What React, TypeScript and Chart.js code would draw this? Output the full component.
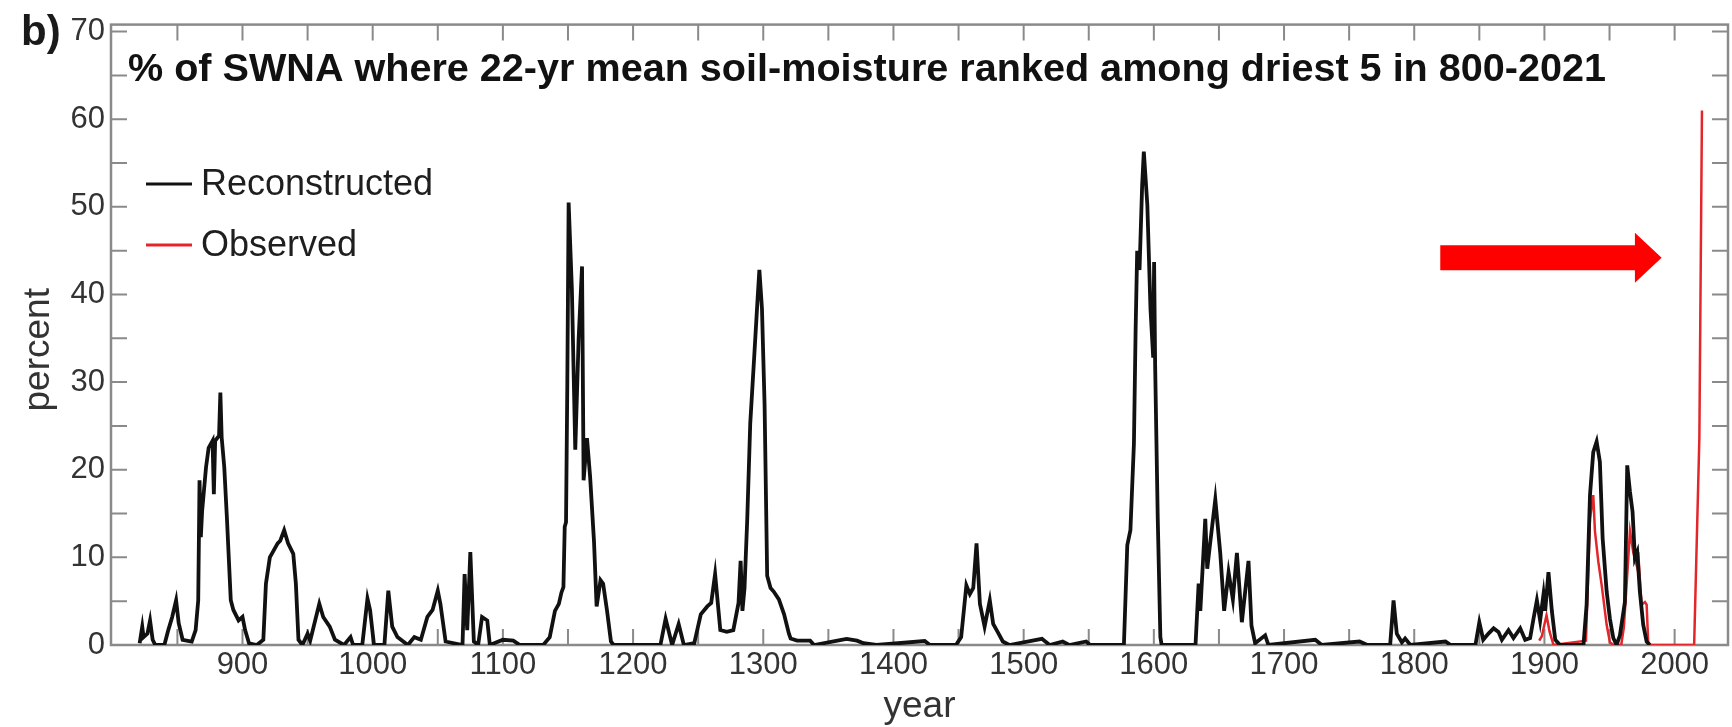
import { useEffect, useRef } from 'react';
import { Chart, registerables } from 'chart.js';

Chart.register(...registerables);

// ---------- data ----------
const REC_YEARS = [
  821, 823, 824, 827, 829, 831, 833, 840, 843, 846, 849, 851, 854, 861, 864, 866, 867, 868, 869, 872,
  874, 877, 878, 879, 882, 883, 884, 886, 888, 891, 893, 897, 900, 902, 905, 911, 916, 918, 921, 924,
  927, 929, 932, 935, 939, 941, 943, 946, 950, 952, 959, 962, 967, 971, 978, 983, 985, 992, 996, 998,
  1001, 1009, 1012, 1015, 1019, 1027, 1032, 1037, 1042, 1046, 1050, 1052, 1056, 1069, 1070.6, 1072.6, 1075, 1077.7, 1081, 1084,
  1088, 1090, 1100, 1108, 1113, 1131, 1136, 1140, 1143, 1145, 1146.5, 1147.5, 1148.5, 1149.5, 1150.5, 1153, 1155.6, 1158.2, 1160.8, 1162,
  1164.6, 1167, 1170, 1172, 1175, 1177, 1180, 1183, 1185, 1221, 1225, 1230, 1235, 1239, 1247, 1252, 1257, 1260, 1263, 1267,
  1272, 1277, 1281, 1282.6, 1284, 1285.6, 1287.7, 1290, 1293, 1295.4, 1297, 1299, 1301, 1303, 1305.6, 1308, 1312, 1316, 1319.7, 1321,
  1326, 1336, 1339, 1357, 1364, 1372, 1377, 1387, 1424, 1428, 1448, 1452, 1456, 1458.7, 1461.3, 1463.8, 1466.4, 1470, 1474, 1476.6,
  1480, 1484, 1489, 1514, 1520, 1530, 1535, 1548, 1551, 1577, 1579.6, 1582, 1584.7, 1586, 1587.2, 1589, 1591, 1592.3, 1595, 1597.4,
  1599.5, 1600.2, 1601, 1603, 1605, 1606, 1632, 1634.4, 1635.7, 1639.5, 1641, 1643.4, 1647.2, 1651, 1654, 1657.4, 1660.7, 1663.8, 1667.6, 1672.7,
  1675, 1677.8, 1685.5, 1688, 1724, 1729, 1758, 1764, 1781.5, 1784.1, 1786.6, 1790.5, 1793, 1797, 1824, 1828, 1847, 1850, 1853, 1857,
  1861, 1864.7, 1867.3, 1872.4, 1876.2, 1881.4, 1885.2, 1889, 1891.6, 1894.2, 1896.7, 1899.3, 1900.6, 1903.1, 1905.7, 1908.3, 1912, 1930, 1932.4, 1935,
  1937.5, 1940.1, 1942.6, 1944.7, 1947.8, 1950.3, 1952.9, 1955.4, 1958, 1961.8, 1963.6, 1965.7, 1967.7, 1969.5, 1971.3, 1973.3, 1975.9, 1978.5, 1981,
];
const REC_VALUES = [
  0.2, 2.1, 0.9, 1.3, 2.8, 0.6, 0, 0, 1.7, 3.2, 5.1, 2.5, 0.6, 0.4, 1.7, 5.1, 18.8, 12.3, 15.3, 20.3,
  22.5, 23.3, 17.2, 23.3, 23.9, 28.8, 23.7, 20.3, 14.6, 5.1, 4.0, 2.8, 3.2, 1.7, 0.2, 0, 0.6, 7, 10, 10.8,
  11.6, 11.9, 13.1, 11.6, 10.4, 7, 0.6, 0, 1.3, 0.5, 4.7, 3.2, 2.1, 0.6, 0, 0.9, 0, 0, 5.3, 4.0,
  0, 0, 6.2, 2.1, 0.9, 0, 0.9, 0.6, 3.2, 4.0, 6.2, 4.7, 0.4, 0, 8.1, 1.7, 10.6, 0.4, 0, 3.2,
  2.8, 0, 0.6, 0.5, 0, 0, 0.9, 3.9, 4.7, 6, 6.6, 13.5, 14, 30, 50.5, 40.6, 22.3, 35, 43.2, 18.8,
  23.6, 19.2, 11.8, 4.4, 7.4, 7, 3.9, 0.4, 0, 0, 3, 0, 2.4, 0, 0.2, 3.5, 4.4, 4.8, 8.1, 1.7,
  1.5, 1.7, 4.8, 9.6, 3.9, 6.5, 14.4, 25.3, 32.8, 38.9, 42.8, 38.4, 27.5, 7.9, 6.5, 6.1, 5.2, 3.5, 1.3, 0.75,
  0.5, 0.5, 0, 0.5, 0.7, 0.5, 0.2, 0, 0.45, 0, 0, 0.9, 6.8, 5.8, 6.5, 11.6, 4.7, 2.1, 5.1, 2.4,
  1.5, 0.4, 0, 0.7, 0, 0.4, 0, 0.4, 0, 0, 11.4, 13.1, 23, 36, 45, 42.8, 52.4, 56.3, 50.2, 38.4,
  32.8, 43.7, 31.9, 14.4, 0.9, 0, 0, 7, 3.9, 14.4, 8.7, 11.8, 16.6, 10.5, 3.9, 8.3, 5.2, 10.5, 2.6, 9.6,
  2.2, 0.2, 1.1, 0, 0.6, 0, 0.4, 0, 0, 5.1, 1.3, 0.3, 0.75, 0, 0.4, 0, 0, 2.6, 0.6, 1.3,
  1.9, 1.5, 0.6, 1.7, 0.8, 1.9, 0.6, 0.8, 3, 5.1, 2.8, 5.8, 3.9, 8.3, 3.9, 0.6, 0, 0, 4.6, 17.1,
  22, 23.2, 20.9, 12.2, 6.1, 3, 0.8, 0, 1.1, 4.9, 20.5, 17.5, 15.2, 9.9, 10.6, 6.1, 2.3, 0.4, 0,
];

const OBS_YEARS = [
  1896, 1898, 1901.6, 1904, 1907, 1931.9, 1935, 1937.5, 1938.8, 1941.4, 1944, 1947.8, 1950.3, 1953, 1959, 1961,
  1963.1, 1965.7, 1968.2, 1970.8, 1972, 1974.6, 1977.2, 1978.5, 1979.8, 2015, 2019, 2021,
];
const OBS_VALUES = [
  0.5, 1, 3.4, 1.5, 0, 0.5, 14.4, 17.1, 13, 9.5, 6.8, 2.3, 0.3, 0, 0, 2,
  6.8, 13, 10.6, 9.1, 10.6, 4.6, 4.9, 4.6, 0, 0, 23.6, 61,
];

const SERIES_LABELS = ['Reconstructed', 'Observed'];
const SERIES_COLORS = ['#111111', '#e3262a'];

const X_LABELS = [900, 1000, 1100, 1200, 1300, 1400, 1500, 1600, 1700, 1800, 1900, 2000];
const X_MINOR = [850, 900, 950, 1000, 1050, 1100, 1150, 1200, 1250, 1300, 1350, 1400, 1450, 1500, 1550, 1600, 1650, 1700, 1750, 1800, 1850, 1900, 1950, 2000];
const Y_LABELS = [0, 10, 20, 30, 40, 50, 60, 70];
const Y_MINOR = [5, 10, 15, 20, 25, 30, 35, 40, 45, 50, 55, 60, 65, 70];
const X_RANGE = [799, 2041];
const Y_RANGE = [0, 70.8];

const TITLE = '% of SWNA where 22-yr mean soil-moisture ranked among driest 5 in 800-2021';
const PANEL = 'b)';
const X_TITLE = 'year';
const Y_TITLE = 'percent';

// red annotation arrow (data coordinates)
const ARROW_FROM = 1820;
const ARROW_HEAD = 1969.5;
const ARROW_TO = 1990;
const ARROW_LEVEL = 44.2;

const FONT = '"Liberation Sans", Arial, Helvetica, sans-serif';

const decorPlugin = {
  id: 'decor',
  beforeDatasetsDraw(chart: any) {
    const { ctx, chartArea: a, scales } = chart;
    const x = scales.x;
    const y = scales.y;
    ctx.save();
    ctx.strokeStyle = '#8a8a8a';
    ctx.lineWidth = 2;
    const tl = 16;
    for (const v of Y_MINOR) {
      const py = y.getPixelForValue(v);
      ctx.beginPath();
      ctx.moveTo(a.left, py);
      ctx.lineTo(a.left + tl, py);
      ctx.moveTo(a.right, py);
      ctx.lineTo(a.right - tl, py);
      ctx.stroke();
    }
    for (const v of X_MINOR) {
      const px = x.getPixelForValue(v);
      ctx.beginPath();
      ctx.moveTo(px, a.bottom);
      ctx.lineTo(px, a.bottom - tl);
      ctx.moveTo(px, a.top);
      ctx.lineTo(px, a.top + tl);
      ctx.stroke();
    }
    ctx.lineWidth = 2.5;
    ctx.strokeRect(a.left, a.top, a.right - a.left, a.bottom - a.top);
    ctx.restore();
  },
  afterDraw(chart: any) {
    const { ctx, chartArea: a, scales } = chart;
    const x = scales.x;
    const y = scales.y;
    ctx.save();
    // panel letter
    ctx.fillStyle = '#1a1a1a';
    ctx.font = `bold 42px ${FONT}`;
    ctx.textAlign = 'left';
    ctx.textBaseline = 'middle';
    ctx.fillText(PANEL, 21, 33);
    // title inside plot
    ctx.font = `bold 39.6px ${FONT}`;
    ctx.fillStyle = '#111';
    ctx.fillText(TITLE, a.left + 17, 70);
    // legend
    ctx.font = `36px ${FONT}`;
    const rows = [184, 245];
    chart.data.datasets.forEach((ds: any, i: number) => {
      ctx.strokeStyle = ds.borderColor;
      ctx.lineWidth = 3;
      ctx.beginPath();
      ctx.moveTo(a.left + 35, rows[i]);
      ctx.lineTo(a.left + 81, rows[i]);
      ctx.stroke();
      ctx.fillStyle = '#1e1e1e';
      ctx.fillText(ds.label, a.left + 90, rows[i] + 1);
    });
    // axis titles
    ctx.fillStyle = '#333';
    ctx.font = `37px ${FONT}`;
    ctx.textAlign = 'center';
    ctx.textBaseline = 'alphabetic';
    ctx.fillText(X_TITLE, (a.left + a.right) / 2, 717);
    ctx.save();
    ctx.translate(49, (a.top + a.bottom) / 2 + 15);
    ctx.rotate(-Math.PI / 2);
    ctx.fillText(Y_TITLE, 0, 0);
    ctx.restore();
    // arrow
    const x0 = x.getPixelForValue(ARROW_FROM);
    const xh = x.getPixelForValue(ARROW_HEAD);
    const x1 = x.getPixelForValue(ARROW_TO);
    const yc = y.getPixelForValue(ARROW_LEVEL);
    ctx.fillStyle = '#ff0000';
    ctx.beginPath();
    ctx.moveTo(x0, yc - 12.5);
    ctx.lineTo(xh, yc - 12.5);
    ctx.lineTo(xh, yc - 25);
    ctx.lineTo(x1, yc);
    ctx.lineTo(xh, yc + 25);
    ctx.lineTo(xh, yc + 12.5);
    ctx.lineTo(x0, yc + 12.5);
    ctx.closePath();
    ctx.fill();
    ctx.restore();
  },
};

export default function App() {
  const ref = useRef<HTMLCanvasElement | null>(null);
  useEffect(() => {
    document.body.style.margin = '0';
    const canvas = ref.current;
    if (!canvas) return;
    const rec = REC_YEARS.map((yr, i) => ({ x: yr, y: REC_VALUES[i] }));
    const obs = OBS_YEARS.map((yr, i) => ({ x: yr, y: OBS_VALUES[i] }));
    const chart = new Chart(canvas, {
      type: 'line',
      data: {
        datasets: [
          {
            label: SERIES_LABELS[0],
            data: rec,
            borderColor: SERIES_COLORS[0],
            borderWidth: 3.8,
            pointRadius: 0,
            tension: 0,
            fill: false,
          },
          {
            label: SERIES_LABELS[1],
            data: obs,
            borderColor: SERIES_COLORS[1],
            borderWidth: 2.5,
            pointRadius: 0,
            tension: 0,
            fill: false,
          },
        ],
      },
      options: {
        animation: false,
        responsive: false,
        devicePixelRatio: 1,
        layout: { padding: { left: 0, right: 4, top: 24, bottom: 0 } },
        plugins: {
          legend: { display: false },
          tooltip: { enabled: false },
          title: { display: false },
        },
        scales: {
          x: {
            type: 'linear',
            min: X_RANGE[0],
            max: X_RANGE[1],
            grid: { display: false, tickLength: 0 },
            border: { display: false },
            afterBuildTicks: (s: any) => {
              s.ticks = X_LABELS.map((v) => ({ value: v }));
            },
            afterFit: (s: any) => {
              s.height = 82;
            },
            ticks: {
              autoSkip: false,
              maxRotation: 0,
              padding: 2,
              color: '#333',
              font: { family: FONT, size: 31 },
              callback: (v: any) => String(v),
            },
            title: { display: false },
          },
          y: {
            type: 'linear',
            min: Y_RANGE[0],
            max: Y_RANGE[1],
            grid: { display: false, tickLength: 0 },
            border: { display: false },
            afterBuildTicks: (s: any) => {
              s.ticks = Y_LABELS.map((v) => ({ value: v }));
            },
            afterFit: (s: any) => {
              s.width = 111;
            },
            ticks: {
              padding: 6,
              color: '#333',
              font: { family: FONT, size: 31 },
              callback: (v: any) => String(v),
            },
            title: { display: false },
          },
        },
      },
      plugins: [decorPlugin],
    });
    return () => chart.destroy();
  }, []);
  return (
    <div style={{ width: 1732, height: 727, background: '#fff' }}>
      <canvas ref={ref} width={1732} height={727} style={{ display: 'block' }} />
    </div>
  );
}
